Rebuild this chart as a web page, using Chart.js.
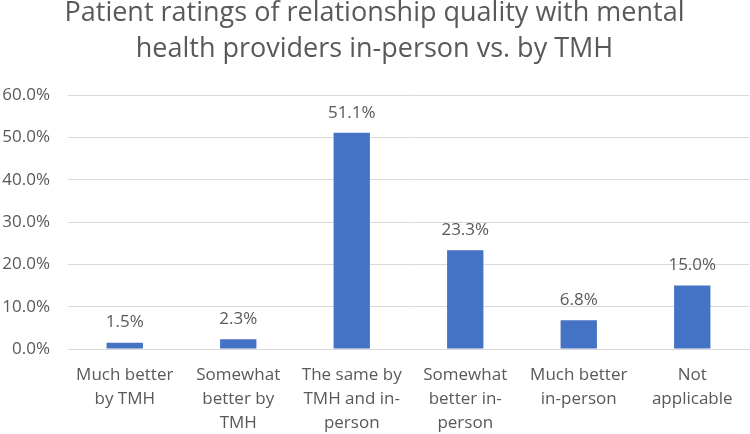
<!DOCTYPE html>
<html>
<head>
<meta charset="utf-8">
<script src="https://cdn.jsdelivr.net/npm/chart.js"></script>
<style>
  body { margin: 0; background: #fff; }
</style>
</head>
<body>
<canvas id="myChart" width="750" height="434"></canvas>
<script>
let ctx = document.getElementById('myChart').getContext('2d')
let labels = [
    ['Much better', 'by TMH'],
    ['Somewhat', 'better by', 'TMH'],
    ['The same by', 'TMH and in-', 'person'],
    ['Somewhat', 'better in-', 'person'],
    ['Much better', 'in-person'],
    ['Not', 'applicable']
]
let dataChart = [1.5, 2.3, 51.1, 23.3, 6.8, 15.0]
let yTicks = [0, 10, 20, 30, 40, 50, 60]
let textGrey = '#595959'
let fontName = "'Open Sans', 'Liberation Sans', sans-serif"

// labels di atas batang
let barLabels = {
    id: 'barLabels',
    afterDatasetsDraw(chart) {
        let c = chart.ctx
        let meta = chart.getDatasetMeta(0)
        c.save()
        c.fillStyle = textGrey
        c.font = '17px ' + fontName
        c.textAlign = 'center'
        c.textBaseline = 'middle'
        meta.data.forEach(function(bar, i) {
            c.fillText(dataChart[i].toFixed(1) + '%', bar.x, bar.y - 20)
        })
        c.restore()
    }
}

let myChart = new Chart(ctx, {
    type: 'bar',
    data: {
        labels: labels,
        datasets: [
            {
                data: dataChart,
                backgroundColor: '#4472C4',
                categoryPercentage: 1,
                barPercentage: 0.32,
            },
        ],
    },
    options: {
        responsive: false,
        animation: false,
        layout: { padding: { top: -5, right: 1, left: 0, bottom: 0 } },
        plugins: {
            legend: { display: false },
            tooltip: { enabled: false },
            title: {
                display: true,
                text: ['Patient ratings of relationship quality with mental', 'health providers in-person vs. by TMH'],
                color: textGrey,
                font: { family: fontName, size: 27, weight: 'normal', lineHeight: '36px' },
                padding: { top: 0, bottom: 28 },
            },
        },
        scales: {
            y: {
                min: 0,
                max: 60,
                afterBuildTicks: function(axis) {
                    axis.ticks = yTicks.map(v => ({ value: v }))
                },
                afterFit: function(axis) { axis.width = 68 },
                border: { display: false },
                grid: { color: '#d9d9d9', drawTicks: false },
                ticks: {
                    color: textGrey,
                    padding: 18,
                    font: { family: fontName, size: 17 },
                    callback: v => v.toFixed(1) + '%',
                },
            },
            x: {
                afterFit: function(axis) { axis.height = 85 },
                border: { color: '#d9d9d9' },
                grid: { display: false, drawTicks: false },
                ticks: {
                    color: textGrey,
                    padding: 14,
                    maxRotation: 0,
                    autoSkip: false,
                    font: { family: fontName, size: 17, lineHeight: '24px' },
                },
            },
        },
    },
    plugins: [barLabels],
})
</script>
</body>
</html>
